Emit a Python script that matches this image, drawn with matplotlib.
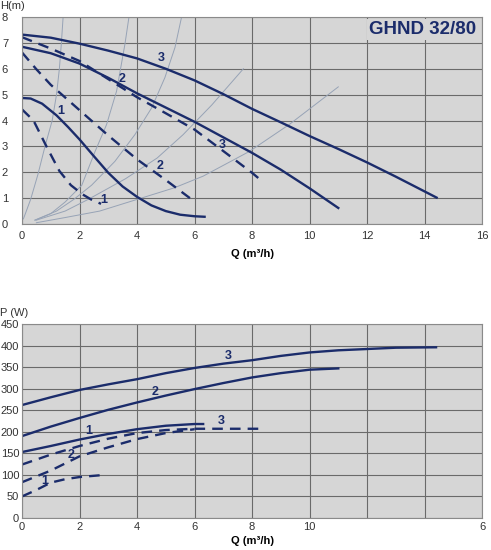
import matplotlib
matplotlib.use('Agg')
import matplotlib.pyplot as plt

plt.rcParams['font.family'] = ['Liberation Sans', 'DejaVu Sans']

# ---- Q-H chart (top) ----
# pump curves, solid = one mode, dashed = other mode, speeds 1..3
h_s3_q = [0, 1, 2, 3, 4, 5, 6, 7, 8, 9, 10, 11, 12, 13, 14.42]
h_s3_h = [7.32, 7.2, 6.97, 6.7, 6.4, 6.0, 5.55, 5.02, 4.45, 3.93, 3.4, 2.9, 2.38, 1.83, 1.02]
h_s2_q = [0, 1, 2, 3, 4, 5, 6, 7, 8, 9, 10, 11.0]
h_s2_h = [6.85, 6.6, 6.2, 5.65, 5.05, 4.5, 3.95, 3.35, 2.75, 2.1, 1.38, 0.62]
h_s1_q = [0, 0.3, 0.7, 1.2, 1.6, 2, 2.5, 3, 3.5, 4, 4.5, 5, 5.5, 6, 6.35]
h_s1_h = [4.87, 4.85, 4.65, 4.2, 3.75, 3.27, 2.62, 1.98, 1.45, 1.05, 0.72, 0.5, 0.36, 0.3, 0.28]
h_d3_q = [0, 1, 2, 3, 4, 5, 6, 7, 8, 8.3]
h_d3_h = [7.22, 6.78, 6.3, 5.6, 4.9, 4.28, 3.65, 2.82, 1.98, 1.7]
h_d2_q = [0, 0.5, 1, 2, 3, 4, 5, 5.84]
h_d2_h = [6.63, 5.98, 5.38, 4.4, 3.42, 2.5, 1.7, 1.0]
h_d1_q = [0, 0.4, 0.85, 1.3, 1.7, 2.1, 2.4, 2.75]
h_d1_h = [4.43, 4.0, 3.0, 2.05, 1.5, 1.15, 0.95, 0.78]

# system curves (thin grey)
sys1_q = [0.05, 0.3, 0.55, 0.8, 1.05, 1.2, 1.3, 1.37, 1.43]
sys1_h = [0.2, 0.95, 1.9, 3.0, 4.0, 5.0, 6.0, 7.0, 8.0]
sys2_q = [0.45, 1.0, 1.5, 2.08, 2.54, 2.94, 3.29, 3.58, 3.72]
sys2_h = [0.15, 0.4, 0.85, 1.5, 2.8, 3.84, 5.14, 6.95, 8.0]
sys3_q = [0.45, 1.2, 1.8, 2.42, 3.23, 3.93, 4.51, 4.97, 5.32, 5.55]
sys3_h = [0.15, 0.5, 0.95, 1.5, 2.42, 3.46, 4.49, 5.66, 6.82, 8.0]
sys4_q = [0.5, 1.5, 2.3, 3.6, 4.7, 5.6, 6.6, 7.7]
sys4_h = [0.15, 0.5, 0.95, 1.75, 2.55, 3.45, 4.6, 6.0]
sys5_q = [0.5, 1.5, 2.7, 4.0, 5.3, 6.3, 7.9, 9.3, 11.0]
sys5_h = [0.05, 0.25, 0.5, 0.95, 1.4, 1.85, 2.8, 3.85, 5.3]

# ---- Q-P chart (bottom) ----
p_s3_q = [0, 1, 2, 3, 4, 5, 6, 7, 8, 9, 10, 11, 12, 13, 14.4]
p_s3_p = [262, 280, 297, 310, 322, 336, 348, 358, 366, 376, 384, 389, 392, 395, 396]
p_s2_q = [0, 1, 2, 3, 4, 5, 6, 7, 8, 9, 10, 11]
p_s2_p = [190, 212, 232, 251, 268, 284, 299, 313, 326, 336, 344, 347]
p_s1_q = [0, 1, 2, 3, 4, 5, 6, 6.3]
p_s1_p = [153, 167, 182, 195, 206, 214, 218, 218]
p_d3_q = [0, 1, 2, 3, 4, 5, 6, 7, 8.3]
p_d3_p = [124, 147, 167, 184, 197, 204, 207, 207, 207]
p_d2_q = [0, 1, 2, 3, 4, 5, 6]
p_d2_p = [83, 110, 143, 164, 183, 197, 206]
p_d1_q = [0, 0.5, 1, 1.5, 2, 2.7]
p_d1_p = [50, 65, 82, 90, 95, 99]

x_ticks = [0, 2, 4, 6, 8, 10, 12, 14, 16]
top_xlabels = ['0', '2', '4', '6', '8', '10', '12', '14', '16']
bot_xlabels = ['0', '2', '4', '6', '8', '10', '', '', '6']

navy = '#1b2c6b'
thin = '#97a3b6'
bg = '#d6d6d6'
grid_c = '#6a6a6a'
dash = (0, (4.5, 3))

fig = plt.figure(figsize=(4.91, 5.5), dpi=100)
ax1 = fig.add_axes([0.0448, 0.5927, 0.937, 0.3764])
ax2 = fig.add_axes([0.0448, 0.0582, 0.937, 0.3527])

for ax in (ax1, ax2):
    ax.set_facecolor(bg)
    ax.set_axisbelow(True)
    ax.grid(True, color=grid_c, linewidth=0.8)
    ax.set_xlim(0, 16)
    ax.set_xticks(x_ticks)
    ax.tick_params(length=0, labelsize=8, labelcolor='#333333')
    for sp in ax.spines.values():
        sp.set_color('#8a8a8a')
        sp.set_linewidth(0.8)

# top chart
for q, h in [(sys1_q, sys1_h), (sys2_q, sys2_h), (sys3_q, sys3_h),
             (sys4_q, sys4_h), (sys5_q, sys5_h)]:
    ax1.plot(q, h, color=thin, lw=0.7)
ax1.plot(h_s3_q, h_s3_h, color=navy, lw=1.7)
ax1.plot(h_s2_q, h_s2_h, color=navy, lw=1.7)
ax1.plot(h_s1_q, h_s1_h, color=navy, lw=1.7)
ax1.plot(h_d3_q, h_d3_h, color=navy, lw=1.7, ls=dash)
ax1.plot(h_d2_q, h_d2_h, color=navy, lw=1.7, ls=dash)
ax1.plot(h_d1_q, h_d1_h, color=navy, lw=1.7, ls=dash)
ax1.set_ylim(0, 8)
ax1.set_yticks(range(0, 9))
ax1.set_xticklabels(top_xlabels)
ax1.tick_params(axis='y', pad=10)
ax1.tick_params(axis='x', pad=5)

lbl = dict(color=navy, fontsize=9, fontweight='bold', ha='center', va='center')
ax1.text(4.86, 6.43, '3', **lbl)
ax1.text(3.47, 5.62, '2', **lbl)
ax1.text(1.34, 4.36, '1', **lbl)
ax1.text(6.98, 3.04, '3', **lbl)
ax1.text(4.80, 2.25, '2', **lbl)
ax1.text(2.83, 0.91, '1', **lbl)
ax1.text(15.8, 7.52, 'GHND 32/80', color=navy, fontsize=13.5, fontweight='bold',
         ha='right', va='center',
         bbox=dict(facecolor=bg, edgecolor='none', pad=1.5))
ax1.text(-0.048, 1.03, 'H(m)', transform=ax1.transAxes, fontsize=8, color='#333333',
         ha='left', va='bottom')
ax1.set_xlabel('Q (m³/h)', fontsize=8, fontweight='bold', labelpad=6)

# bottom chart
ax2.plot(p_s3_q, p_s3_p, color=navy, lw=1.7)
ax2.plot(p_s2_q, p_s2_p, color=navy, lw=1.7)
ax2.plot(p_s1_q, p_s1_p, color=navy, lw=1.7)
ax2.plot(p_d3_q, p_d3_p, color=navy, lw=1.7, ls=dash)
ax2.plot(p_d2_q, p_d2_p, color=navy, lw=1.7, ls=dash)
ax2.plot(p_d1_q, p_d1_p, color=navy, lw=1.7, ls=dash)
ax2.set_ylim(0, 450)
ax2.set_yticks(range(0, 451, 50))
ax2.set_xticklabels(bot_xlabels)
ax2.tick_params(axis='y', pad=2)
ax2.tick_params(axis='x', pad=3)

ax2.text(7.19, 375, '3', **lbl)
ax2.text(4.63, 293, '2', **lbl)
ax2.text(2.31, 202, '1', **lbl)
ax2.text(6.93, 224, '3', **lbl)
ax2.text(1.71, 147, '2', **lbl)
ax2.text(0.80, 85, '1', **lbl)
ax2.text(-0.048, 1.03, 'P (W)', transform=ax2.transAxes, fontsize=8, color='#333333',
         ha='left', va='bottom')
ax2.set_xlabel('Q (m³/h)', fontsize=8, fontweight='bold', labelpad=3)

fig.savefig('out.png', dpi=100, facecolor='white')
